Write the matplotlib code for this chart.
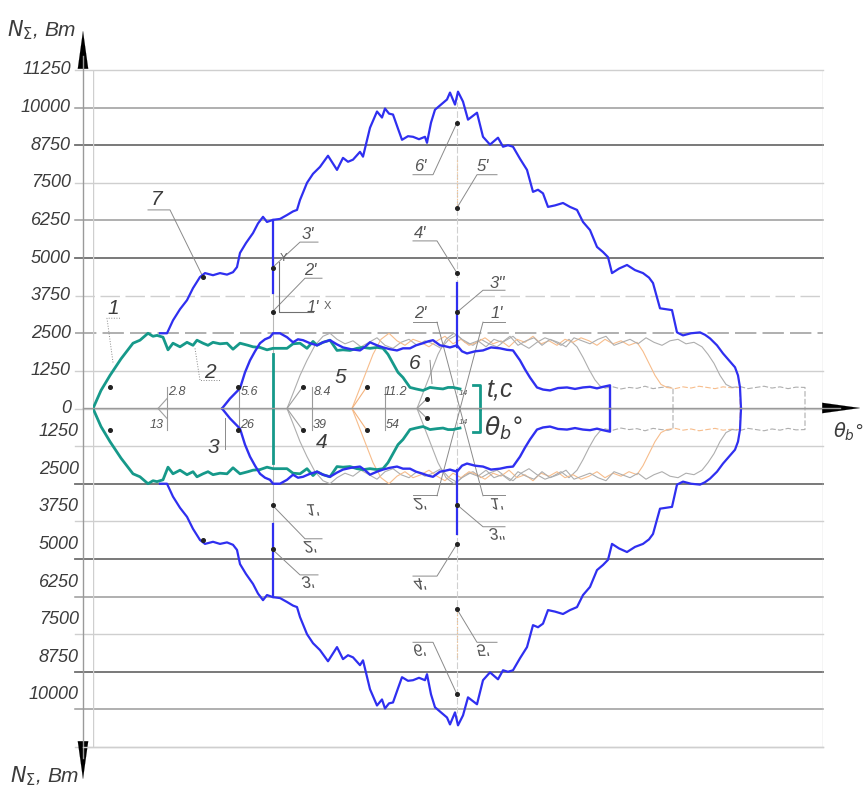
import numpy as np
import matplotlib
matplotlib.use("Agg")
import matplotlib.pyplot as plt
from matplotlib.textpath import TextPath
from matplotlib.patches import PathPatch
from matplotlib.font_manager import FontProperties
from matplotlib.transforms import Affine2D

FONT = ["Liberation Sans", "DejaVu Sans"]
plt.rcParams["font.family"] = FONT
TXT = "#3c3c3c"

# --- data (theta in drawing units, N in W); lower half is the mirror image ---
y_top = [11250, 10000, 8750, 7500, 6250, 5000, 3750, 2500, 1250, 0]
y_bottom = [1250, 2500, 3750, 5000, 6250, 7500, 8750, 10000]

# curve 1-2-6 (teal)
teal_th = [0, 8, 17, 28, 40, 47, 55, 60, 64, 70,
           75, 80, 87, 94, 100, 104, 110, 115, 120, 127,
           134, 140, 147, 155, 160, 167, 174, 180, 188, 194,
           200, 207, 214, 220, 224, 230, 237, 244, 250, 257,
           264, 270, 277, 284, 290, 295, 300, 305, 310, 317,
           323, 330, 337, 344, 350, 355, 360, 367]
teal_w = [0, 600, 1100, 1650, 2170, 2270, 2500, 2400, 2430, 2370,
          1950, 2170, 2050, 2200, 2100, 2270, 2170, 2100, 2200, 2150,
          2170, 1970, 2170, 2100, 2050, 2030, 1950, 2000, 2000, 2000,
          2150, 2170, 2000, 2230, 2100, 2200, 2270, 1930, 1950, 1930,
          2000, 2030, 2000, 2030, 2000, 1800, 1500, 1200, 1030, 700,
          650, 600, 700, 670, 650, 700, 700, 650]
teal_end_th = [380, 387, 387]
teal_end_w = [770, 770, 0]

# curve 3-4-5 (blue, inner)
blue_in_th = [129, 137, 147, 152, 157, 162, 167, 172, 177, 180,
              187, 194, 200, 205, 210, 217, 224, 230, 237, 244,
              250, 258, 267, 272, 277, 284, 290, 297, 304, 310,
              317, 323, 330, 335, 340, 347, 352, 357, 364, 369,
              374, 382, 390, 398, 407, 414, 420, 427, 432, 437,
              444, 450, 457, 465, 474, 482, 490, 497, 504, 510,
              517, 517]
blue_in_w = [0, 330, 670, 1200, 1600, 1900, 2170, 2300, 2370, 2500,
             2500, 2370, 2200, 2300, 2270, 2170, 2100, 2200, 2270, 2130,
             2030, 1970, 1930, 2050, 2200, 2100, 2030, 1970, 1930, 2000,
             2000, 2100, 2170, 2230, 2270, 2100, 2070, 2030, 2100, 1900,
             1830, 1900, 1930, 2030, 2000, 1950, 1930, 1600, 1300, 1030,
             700, 630, 600, 680, 700, 650, 700, 720, 670, 720,
             770, 0]

# curve 7 (blue, total)
blue_out_th = [67, 74, 80, 87, 94, 100, 107, 112, 120, 127,
               134, 140, 144, 147, 153, 160, 165, 170, 174, 180,
               187, 194, 200, 204, 207, 214, 220, 227, 235, 244,
               250, 255, 260, 267, 270, 277, 284, 289, 292, 296,
               300, 305, 309, 315, 320, 326, 332, 334, 338, 342,
               348, 354, 357, 362, 365, 370, 375, 384, 390, 397,
               405, 410, 415, 420, 427, 434, 440, 445, 450, 455,
               462, 470, 477, 484, 490, 497, 504, 510, 515, 519,
               526, 534, 542, 550, 556, 560, 567, 573, 579, 584,
               590, 598, 607, 612, 617, 624, 630, 636, 642, 645, 647, 648]
blue_out_w = [2500, 2500, 2930, 3300, 3600, 4000, 4370, 4500, 4430, 4500,
              4450, 4530, 4700, 5170, 5500, 5830, 6150, 6370, 6200, 6270,
              6300, 6430, 6550, 6600, 6930, 7500, 7800, 8030, 8400, 7930,
              8330, 8200, 8270, 8530, 8370, 9330, 9870, 9670, 9970, 9800,
              9770, 9300, 8930, 9050, 9030, 8950, 9030, 8830, 9500, 9930,
              10100, 10270, 10500, 10100, 10530, 10200, 9600, 9830, 9030, 8770,
              9000, 8700, 8750, 8700, 8300, 7930, 7200, 7270, 7150, 6700,
              6750, 6830, 6700, 6600, 6200, 5930, 5370, 5200, 5030, 4500,
              4650, 4770, 4600, 4500, 4350, 4170, 3330, 3300, 3270, 2530,
              2430, 2500, 2530, 2450, 2330, 2100, 1830, 1600, 1370, 1100, 700, 0]

# background curves (gray / orange)
gray_a_th = [194, 200, 207, 214, 222, 230, 237, 244, 252, 260, 268, 276, 284, 292,
             300, 308, 316, 324, 332, 340, 348, 356, 364, 372, 380, 388, 396, 404,
             412, 420, 428, 436, 444, 452, 460, 468, 476, 484, 490, 496, 502, 507, 512]
gray_a_w = [0, 500, 1100, 1600, 2100, 2400, 2500, 2300, 2150, 2250, 2050, 2200, 2350, 2100,
            2000, 2200, 2300, 2100, 2250, 2150, 2000, 2300, 2450, 2200, 2100, 2300, 2150, 2050,
            2250, 2400, 2150, 2000, 2200, 2350, 2250, 2100, 2300, 2050, 1700, 1300, 950, 750, 680]
gray_a_tail_th = [512, 520, 528, 536, 544, 552, 560, 568, 575, 580, 580]
gray_a_tail_w = [680, 720, 650, 700, 670, 740, 660, 700, 720, 680, 0]

orange_th = [259, 266, 273, 280, 288, 296, 304, 312, 320, 328, 336, 344, 352, 360,
             368, 376, 384, 392, 400, 408, 416, 424, 432, 440, 448, 456, 464, 472,
             480, 488, 496, 504, 512, 520, 528, 536, 544, 550, 556, 562, 568, 574]
orange_w = [0, 600, 1200, 1800, 2300, 2500, 2250, 2100, 2300, 2200, 2050, 2250, 2400, 2150,
            2300, 2100, 2200, 2350, 2150, 2250, 2050, 2300, 2200, 2400, 2150, 2250, 2100, 2300,
            2200, 2350, 2250, 2100, 2300, 2150, 2250, 2100, 2200, 1900, 1500, 1100, 800, 700]
orange_tail_th = [574, 582, 590, 598, 606, 614, 622, 630, 638, 647, 647]
orange_tail_w = [700, 660, 720, 680, 740, 700, 660, 720, 690, 700, 0]

gray_b_th = [324, 331, 338, 345, 353, 361, 369, 377, 385, 393, 401, 409, 417, 425,
             433, 441, 449, 457, 465, 473, 481, 489, 497, 505, 513, 521, 529, 537,
             545, 553, 561, 569, 577, 585, 593, 601, 609, 615, 621, 627, 633, 639]
gray_b_w = [0, 600, 1200, 1800, 2300, 2500, 2300, 2150, 2250, 2050, 2300, 2200, 2400, 2100,
            2250, 2350, 2100, 2300, 2200, 2050, 2350, 2250, 2150, 2300, 2400, 2100, 2200, 2300,
            2150, 2350, 2200, 2100, 2250, 2300, 2150, 2200, 2050, 1800, 1500, 1100, 800, 700]
gray_b_tail_th = [639, 647, 655, 663, 671, 679, 687, 695, 703, 712, 712]
gray_b_tail_w = [700, 730, 660, 700, 740, 680, 720, 660, 710, 700, 0]

# time / angle marks
marks_th = [74, 146, 219, 292]
marks_t = ["2.8", "5.6", "8.4", "11.2"]
marks_deg = ["13", "26", "39", "54"]

fig = plt.figure(figsize=(8.67, 7.98), dpi=100)
ax = fig.add_axes([93 / 867, 51 / 798, 730 / 867, 677 / 798])
ax.set_xlim(0, 730)
ax.set_ylim(-11250, 11250)
ax.axis("off")


def both(th, w, **kw):
    w = np.asarray(w, dtype=float)
    ax.plot(th, w, **kw)
    ax.plot(th, -w, **kw)


# grid
dark = {8750, 5000, -2500, -5000, -8750}
mid = {10000, 6250, 2500, -6250, -10000}
for v in np.arange(-11250, 11251, 1250):
    if v in dark:
        c, lw = "#6e6e6e", 1.3
    elif v in mid:
        c, lw = "#9a9a9a", 1.1
    else:
        c, lw = "#cfcfcf", 1.0
    ls = (0, (14, 4)) if v in (3750, 2500) else "-"
    ax.plot([-18, 730], [v, v], color=c, lw=lw, ls=ls, clip_on=False, zorder=0)
ax.plot([0, 0], [-11250, 11250], color="#cfcfcf", lw=1.0, zorder=0)
ax.plot([730, 730], [-11250, 11250], color="#cfcfcf", lw=1.0, zorder=0)

# y labels
for v in y_top:
    ax.text(-22, v, str(v), ha="right", va="center", fontsize=13, style="italic",
            color=TXT, clip_on=False)
for v in y_bottom:
    ax.text(-14, -v + 480, str(v), ha="right", va="center", fontsize=13, style="italic",
            color=TXT, clip_on=False)

# construction verticals
ax.plot([180, 180], [6270, -6270], color="#b8b8b8", lw=0.8, zorder=1)
ax.plot([364, 364], [10500, -10500], color="#d0d0d0", lw=0.8, ls=(0, (6, 2)), zorder=1)
both([364, 364], [8270, 6600], color="#f5c08a", lw=0.8, ls=":", zorder=1)
for t in marks_th:
    ax.plot([t, t], [700, -700], color="#9a9a9a", lw=0.8, zorder=1)

# background curves
gkw = dict(color="#aeaeae", lw=0.8, zorder=2)
okw = dict(color="#f7bd8c", lw=0.8, zorder=2)
both(gray_a_th, gray_a_w, **gkw)
both(gray_a_tail_th, gray_a_tail_w, ls=(0, (5, 2)), **gkw)
both(orange_th, orange_w, **okw)
both(orange_tail_th, orange_tail_w, ls=(0, (5, 2)), **okw)
both(gray_b_th, gray_b_w, **gkw)
both(gray_b_tail_th, gray_b_tail_w, ls=(0, (5, 2)), **gkw)

# "<" marks
both([74, 65], [330, 0], color="#a0a0a0", lw=0.8, zorder=2)
both([210, 194], [730, 0], color="#a0a0a0", lw=0.8, zorder=2)
both([274, 259], [730, 0], color="#f3b27c", lw=0.8, zorder=2)
both([334, 324], [330, 0], color="#a0a0a0", lw=0.8, zorder=2)

# main curves
TEAL = "#16998a"
BLUE = "#2f2ff0"
both(teal_th, teal_w, color=TEAL, lw=2.0, zorder=4)
both(teal_end_th, teal_end_w, color=TEAL, lw=2.0, zorder=4)
ax.plot([180, 180], [1800, -1800], color=TEAL, lw=2.0, zorder=4)
both(blue_in_th, blue_in_w, color=BLUE, lw=1.7, zorder=5)
both(blue_out_th, blue_out_w, color=BLUE, lw=1.6, zorder=5)
both([180, 180], [6270, 3830], color=BLUE, lw=1.6, zorder=5)
both([364, 364], [4170, 2030], color=BLUE, lw=1.6, zorder=5)

# points
dots_th = [17, 145, 210, 274, 334, 180, 180, 364, 364, 364, 364, 110]
dots_w = [700, 700, 730, 730, 330, 4670, 3200, 9500, 6670, 4500, 3200, 4370]
both(dots_th, dots_w, ls="none", marker="o", ms=2.6, color="#222222", zorder=6)

# leader lines
lkw = dict(color="#8a8a8a", lw=0.7, zorder=3)
ax.plot([55, 77, 110], [6600, 6600, 4370], **lkw)
ax.plot([27, 14, 20], [3000, 3000, 1530], ls=":", **lkw)
ax.plot([127, 107, 102], [930, 930, 2000], ls=":", **lkw)
ax.plot([132, 132], [-330, -1330], **lkw)
ax.plot([337, 339], [1600, 830], **lkw)
both([225, 207, 179], [5530, 5530, 4670], **lkw)
both([229, 212, 179], [4330, 4330, 3200], **lkw)
both([320, 344, 364], [5570, 5570, 4500], **lkw)
both([320, 340, 364], [7770, 7770, 9500], **lkw)
both([404, 384, 364], [7770, 7770, 6670], **lkw)
both([412, 390, 364], [3930, 3930, 3200], **lkw)
both([320, 344], [2870, 2870], **lkw)
both([412, 390], [2870, 2870], **lkw)
ax.plot([344, 390], [2870, -2900], **lkw)
ax.plot([390, 344], [2870, -2900], **lkw)
# small coordinate icon
ax.plot([186, 186, 220], [4870, 3200, 3200], color="#707070", lw=0.8, zorder=3)
ax.text(190, 5000, "Y", fontsize=8, color="#606060", ha="center", va="center")
ax.text(234, 3400, "X", fontsize=8, color="#606060", ha="center", va="center")


# text labels
def lab(x, y, s, fs=15, **kw):
    ax.text(x, y, s, fontsize=fs, style="italic", color=TXT, ha="center",
            va="center", zorder=7, **kw)


lab(20, 3330, "1")
lab(117, 1200, "2")
lab(120, -1300, "3")
lab(229, -1130, "4")
lab(247, 1030, "5")
lab(322, 1500, "6")
lab(64, 6930, "7")
lab(407, 620, "t,c", fs=18)
lab(410, -650, r"$\theta_b$°", fs=18)

for t, s1, s2 in zip(marks_th, marks_t, marks_deg):
    ax.text(t + 10, 550, s1, fontsize=9, style="italic", color="#555555", ha="center", va="center")
    ax.text(t - 10 if t == 74 else t + 8, -550, s2, fontsize=9, style="italic",
            color="#555555", ha="center", va="center")
ax.text(370, 500, "14", fontsize=6, style="italic", color="#555555", ha="center", va="center")
ax.text(370, -470, "14", fontsize=6, style="italic", color="#555555", ha="center", va="center")

prime_th = [215, 217, 220, 327, 327, 390, 404, 327, 404]
prime_w = [5770, 4600, 3370, 5830, 8030, 8030, 4170, 3170, 3170]
prime_s = ["3'", "2'", "1'", "4'", "6'", "5'", "3''", "2'", "1'"]
fp = FontProperties(family=FONT, style="italic")
k = fig.dpi / 72
for x, y, s in zip(prime_th, prime_w, prime_s):
    ax.text(x, y, s, fontsize=12, style="italic", color="#555555", ha="center",
            va="center", zorder=7)
    # mirrored label in the lower half (flipped upside down)
    tp = TextPath((0, 0), s, size=12, prop=fp)
    bb = tp.get_extents()
    px, py = ax.transData.transform((x, -y))
    tr = (Affine2D().translate(-(bb.x0 + bb.x1) / 2, -(bb.y0 + bb.y1) / 2)
          .scale(k, -k).translate(px, py))
    fig.add_artist(PathPatch(tp, transform=tr, fc="#555555", ec="none"))

# axes arrows and titles (figure pixels)
H = 798
fig.add_artist(plt.Line2D([83, 83], [H - 56, H - 758], transform=None,
                          color="#9a9a9a", lw=1.0))
fig.add_artist(plt.Line2D([83, 840], [H - 408, H - 408], transform=None,
                          color="#9a9a9a", lw=1.0))
fig.add_artist(plt.Line2D([83, 823], [H - 747, H - 747], transform=None,
                          color="#cfcfcf", lw=1.0))
akw = dict(arrowstyle="-|>,head_length=1.8,head_width=0.25", color="black",
           lw=0.1, mutation_scale=15)
ax.annotate("", xy=(83, H - 28), xytext=(83, H - 60), xycoords="figure pixels",
            textcoords="figure pixels", arrowprops=akw)
ax.annotate("", xy=(83, H - 782), xytext=(83, H - 755), xycoords="figure pixels",
            textcoords="figure pixels", arrowprops=akw)
ax.annotate("", xy=(863, H - 408), xytext=(835, H - 408), xycoords="figure pixels",
            textcoords="figure pixels", arrowprops=akw)

fig.text(42 / 867, 1 - 30 / H, r"$N_{\Sigma}$, Вт", fontsize=15, style="italic",
         color=TXT, ha="center", va="center")
fig.text(45 / 867, 1 - 776 / H, r"$N_{\Sigma}$, Вт", fontsize=15, style="italic",
         color=TXT, ha="center", va="center")
fig.text(848 / 867, 1 - 432 / H, r"$\theta_b$°", fontsize=14, style="italic",
         color=TXT, ha="center", va="center")

fig.savefig("out.png", dpi=100)
